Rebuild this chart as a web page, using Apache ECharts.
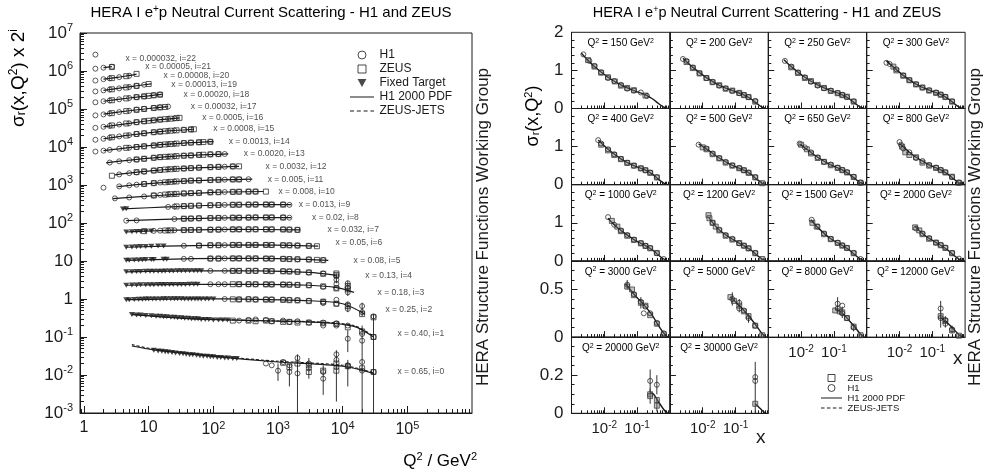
<!DOCTYPE html>
<html><head><meta charset="utf-8">
<script src="https://cdn.jsdelivr.net/npm/echarts@6/dist/echarts.min.js"></script>
<style>html,body{margin:0;padding:0;background:#fff}#c{width:989px;height:472px}</style>
</head><body><div id="c"></div>
<script>
// ---------------- LEFT PANEL DATA: [Q2, sigma_r * 2^i] ----------------
const h1_22 = [[1.5,2.7e6]];
const h1_21 = [[1.5,1.15e6],[2.0,1.22e6],[2.7,1.3e6]];
const zeus_21 = [[2.7,1.27e6]];
const pdf_21 = [[2.0,1.22e6],[2.7,1.3e6]];
const h1_20 = [[1.5,5.6e5],[2.0,6.1e5],[2.5,6.4e5],[3.5,6.9e5],[5.0,7.5e5]];
const zeus_20 = [[2.7,6.5e5],[4.5,7.3e5],[6.5,8.4e5]];
const pdf_20 = [[2.0,6.1e5],[3.0,6.7e5],[4.5,7.4e5],[6.5,8.3e5]];
const h1_19 = [[1.5,2.9e5],[2.0,3.1e5],[2.5,3.25e5],[3.5,3.5e5],[5.0,3.8e5],[6.5,4.05e5],[8.5,4.35e5]];
const zeus_19 = [[2.7,3.3e5],[4.5,3.7e5],[6.5,4.05e5],[10,4.55e5]];
const pdf_19 = [[2.0,3.1e5],[4.0,3.65e5],[7.0,4.15e5],[11,4.6e5]];
const h1_18 = [[1.5,1.5e5],[2.0,1.6e5],[2.5,1.67e5],[3.5,1.8e5],[5.0,1.95e5],[6.5,2.05e5],[8.5,2.15e5],[12,2.3e5],[15,2.4e5]];
const zeus_18 = [[2.7,1.7e5],[4.5,1.9e5],[6.5,2.05e5],[8.5,2.15e5],[10,2.22e5],[12,2.29e5],[15,2.38e5]];
const pdf_18 = [[2.0,1.6e5],[5.0,1.95e5],[10,2.22e5],[16,2.43e5]];
const h1_17 = [[1.5,6.8e4],[2.0,7.2e4],[2.5,7.6e4],[3.5,8.3e4],[5.0,9.0e4],[6.5,9.6e4],[8.5,1.01e5],[12,1.07e5],[15,1.11e5],[20,1.16e5]];
const zeus_17 = [[2.7,7.8e4],[4.5,8.8e4],[6.5,9.5e4],[8.5,1.0e5],[12,1.06e5],[15,1.1e5],[18,1.13e5]];
const pdf_17 = [[2.0,7.3e4],[5.0,9.0e4],[10,1.03e5],[20,1.16e5]];
const h1_16 = [[1.5,3.2e4],[2.0,3.4e4],[2.5,3.6e4],[3.5,3.9e4],[5.0,4.2e4],[6.5,4.5e4],[8.5,4.75e4],[12,5.05e4],[15,5.25e4],[20,5.5e4],[25,5.65e4]];
const zeus_16 = [[2.7,3.7e4],[4.5,4.15e4],[6.5,4.5e4],[8.5,4.75e4],[10,4.9e4],[12,5.05e4],[15,5.25e4],[18,5.4e4],[22,5.55e4],[27,5.75e4],[30,5.85e4]];
const pdf_16 = [[2.0,3.4e4],[5.0,4.2e4],[10,4.9e4],[30,5.85e4]];
const h1_15 = [[1.5,1.55e4],[2.0,1.65e4],[2.5,1.75e4],[3.5,1.9e4],[5.0,2.05e4],[6.5,2.2e4],[8.5,2.3e4],[12,2.45e4],[15,2.55e4],[20,2.65e4],[25,2.73e4],[35,2.83e4],[45,2.9e4]];
const zeus_15 = [[2.7,1.8e4],[4.5,2.0e4],[6.5,2.2e4],[8.5,2.3e4],[12,2.45e4],[15,2.53e4],[18,2.6e4],[22,2.68e4],[27,2.75e4],[35,2.83e4],[45,2.9e4],[50,2.93e4]];
const pdf_15 = [[2.0,1.65e4],[5.0,2.05e4],[15,2.55e4],[50,2.93e4]];
const h1_14 = [[1.5,7.6e3],[2.0,8.0e3],[2.5,8.4e3],[3.5,9.0e3],[5.0,9.6e3],[6.5,1.0e4],[8.5,1.05e4],[12,1.1e4],[15,1.14e4],[20,1.19e4],[25,1.22e4],[35,1.27e4],[45,1.3e4],[60,1.33e4],[90,1.37e4]];
const zeus_14 = [[4.5,9.5e3],[6.5,1.0e4],[8.5,1.04e4],[12,1.1e4],[15,1.14e4],[18,1.17e4],[22,1.2e4],[27,1.23e4],[35,1.27e4],[45,1.3e4],[60,1.33e4],[70,1.35e4],[90,1.37e4]];
const pdf_14 = [[2.0,8.0e3],[5.0,9.6e3],[20,1.19e4],[100,1.38e4]];
const h1_13 = [[2.5,3.9e3],[3.5,4.2e3],[5.0,4.5e3],[6.5,4.7e3],[8.5,4.9e3],[12,5.2e3],[15,5.4e3],[20,5.6e3],[25,5.7e3],[35,5.9e3],[45,6.0e3],[60,6.2e3],[90,6.4e3],[120,6.5e3],[150,6.55e3]];
const zeus_13 = [[6.5,4.7e3],[8.5,4.9e3],[12,5.2e3],[15,5.4e3],[18,5.5e3],[22,5.6e3],[27,5.75e3],[35,5.9e3],[45,6.0e3],[60,6.2e3],[70,6.25e3],[90,6.4e3],[120,6.5e3]];
const pdf_13 = [[2.2,3.8e3],[5.0,4.5e3],[20,5.6e3],[170,6.6e3]];
const h1_12 = [[3.5,1.9e3],[5.0,2.05e3],[6.5,2.15e3],[8.5,2.25e3],[12,2.4e3],[15,2.5e3],[20,2.6e3],[25,2.65e3],[35,2.72e3],[45,2.78e3],[60,2.85e3],[90,2.95e3],[120,3.0e3],[150,3.03e3],[200,3.08e3]];
const zeus_12 = [[2.7,1.75e3],[6.5,2.18e3],[8.5,2.28e3],[12,2.4e3],[15,2.48e3],[18,2.55e3],[22,2.6e3],[27,2.66e3],[35,2.72e3],[45,2.78e3],[60,2.85e3],[90,2.94e3],[120,3.0e3],[200,3.08e3],[250,3.1e3]];
const pdf_12 = [[3.0,1.85e3],[8.0,2.25e3],[30,2.7e3],[250,3.1e3]];
const h1_11 = [[2.0,8.5e2],[3.5,9.2e2],[5.0,9.8e2],[6.5,1.02e3],[8.5,1.07e3],[12,1.12e3],[15,1.16e3],[20,1.2e3],[25,1.23e3],[35,1.27e3],[45,1.3e3],[60,1.32e3],[90,1.35e3],[120,1.37e3],[150,1.38e3],[200,1.4e3],[250,1.41e3],[350,1.42e3]];
const zeus_11 = [[8.5,1.06e3],[12,1.12e3],[18,1.18e3],[22,1.21e3],[27,1.24e3],[35,1.27e3],[45,1.3e3],[60,1.32e3],[90,1.35e3],[120,1.37e3],[200,1.4e3],[250,1.4e3]];
const pdf_11 = [[3.3,9.1e2],[10,1.09e3],[50,1.3e3],[400,1.43e3]];
const h1_10 = [[3.0,4.45e2],[5.0,4.7e2],[8.5,5.0e2],[12,5.3e2],[15,5.5e2],[20,5.7e2],[25,5.8e2],[35,6.0e2],[45,6.1e2],[60,6.2e2],[90,6.4e2],[120,6.5e2],[150,6.55e2],[200,6.6e2],[250,6.65e2],[350,6.7e2],[450,6.7e2]];
const zeus_10 = [[12,5.3e2],[18,5.6e2],[22,5.75e2],[27,5.85e2],[35,6.0e2],[45,6.1e2],[60,6.2e2],[90,6.4e2],[120,6.45e2],[200,6.6e2],[250,6.65e2],[350,6.7e2],[450,6.7e2],[650,6.7e2]];
const pdf_10 = [[2.8,4.4e2],[10,5.1e2],[100,6.4e2],[600,6.75e2]];
const ft_9 = [[4.0,2.35e2],[4.5,2.38e2]];
const h1_9 = [[20,2.65e2],[25,2.7e2],[35,2.78e2],[45,2.83e2],[60,2.88e2],[90,2.93e2],[120,2.97e2],[150,3.0e2],[200,3.02e2],[250,3.03e2],[350,3.05e2],[450,3.06e2],[650,3.07e2],[800,3.05e2],[1200,3.08e2],[1500,3.0e2]];
const zeus_9 = [[27,2.73e2],[35,2.78e2],[45,2.83e2],[60,2.88e2],[90,2.93e2],[120,2.97e2],[200,3.02e2],[250,3.03e2],[350,3.05e2],[450,3.06e2],[650,3.06e2],[800,3.06e2],[1200,3.04e2]];
const pdf_9 = [[4.0,2.35e2],[20,2.65e2],[200,3.02e2],[1600,3.05e2]];
const h1_8 = [[4.5,1.15e2],[6.5,1.17e2],[25,1.27e2],[35,1.29e2],[45,1.31e2],[60,1.33e2],[90,1.35e2],[120,1.36e2],[150,1.37e2],[200,1.38e2],[250,1.38e2],[350,1.39e2],[450,1.4e2],[650,1.4e2],[800,1.4e2],[1200,1.4e2],[1500,1.38e2]];
const zeus_8 = [[35,1.3e2],[45,1.31e2],[60,1.33e2],[90,1.35e2],[120,1.36e2],[200,1.38e2],[250,1.38e2],[350,1.39e2],[450,1.4e2],[650,1.4e2],[800,1.4e2],[1200,1.39e2]];
const pdf_8 = [[4.5,1.15e2],[30,1.29e2],[300,1.39e2],[1600,1.39e2]];
const ft_7 = [[4.5,58],[5.5,59],[6.5,59.5],[7.5,60],[9,61],[11,62]];
const h1_7 = [[12,62],[15,63],[20,64],[25,64.5],[35,65],[45,65.5],[60,66],[90,67],[120,67],[150,67.5],[200,68],[250,68],[350,68],[450,68.5],[650,68],[800,68],[1200,68],[1500,67],[2000,66]];
const zeus_7 = [[8.5,61],[18,63.5],[22,64],[35,65],[45,65.5],[60,66],[90,66.5],[120,67],[200,68],[250,68],[350,68],[450,68],[650,68],[800,68],[1200,67.5],[1500,67],[2000,66]];
const pdf_7 = [[4.5,58],[20,64],[200,68],[2200,66]];
const ft_6 = [[4.5,23],[5.5,23.5],[6.5,23.8],[7.5,24],[9,24.2],[11,24.5],[14,24.8],[17,25]];
const h1_6 = [[35,25.2],[60,25.5],[90,26],[120,26],[150,26.2],[200,26.5],[250,26.5],[350,26.5],[450,26.5],[650,26.5],[800,26.5],[1200,26],[1500,26],[2000,25.5],[3000,25]];
const zeus_6 = [[60,25.5],[90,26],[120,26],[200,26.5],[250,26.5],[350,26.5],[450,26.5],[650,26.5],[800,26.3],[1200,26],[1500,25.8],[2000,25.5],[3000,25],[4000,24.5]];
const pdf_6 = [[4.5,23],[50,25.5],[500,26.5],[4200,24.5]];
const ft_5 = [[4.5,10.4],[5.0,10.5],[6.0,10.6],[7.0,10.7],[8.0,10.8],[9.0,10.9],[11,11],[12,11],[17,11.2],[19,11.2]];
const h1_5 = [[35,11.4],[45,11.4],[90,11.6],[120,11.6],[150,11.7],[200,11.7],[250,11.7],[350,11.7],[450,11.7],[650,11.6],[800,11.5],[1200,11.4],[1500,11.3],[2000,11.1],[3000,11],[5000,10.6]];
const zeus_5 = [[90,11.6],[120,11.6],[200,11.7],[250,11.7],[350,11.7],[450,11.7],[650,11.6],[800,11.6],[1200,11.4],[1500,11.2],[2000,11.1],[3000,10.9],[4000,10.7],[5000,10.5]];
const pdf_5 = [[4.5,10.4],[50,11.5],[500,11.7],[6000,10.4]];
const ft_4 = [[4.5,5.2],[5.5,5.25],[6.5,5.3],[7.5,5.3],[9,5.35],[10.5,5.35],[12,5.4],[14,5.4],[16,5.4],[18,5.45],[21,5.45],[24,5.45],[28,5.5],[32,5.5],[37,5.5],[43,5.5],[50,5.5],[57,5.5],[65,5.5]];
const h1_4 = [[90,5.5],[150,5.5],[200,5.5],[250,5.5],[350,5.5],[450,5.5],[650,5.45],[800,5.45],[1200,5.4],[1500,5.3],[2000,5.2],[3000,5.0],[5000,4.7],[8000,4.0],[8000,3.2]];
const zeus_4 = [[200,5.5],[250,5.5],[350,5.5],[450,5.5],[650,5.45],[800,5.4],[1200,5.35],[1500,5.3],[2000,5.2],[3000,5.0],[5000,4.6],[8000,4.3],[8000,4.7]];
const pdf_4 = [[4.5,5.2],[50,5.5],[500,5.5],[3000,5.0],[8000,4.2]];
const ft_3 = [[4.5,2.3],[5.5,2.33],[6.5,2.35],[7.5,2.36],[9,2.37],[10.5,2.38],[12,2.38],[14,2.39],[16,2.4],[18,2.4],[21,2.41],[24,2.41],[28,2.42],[32,2.42],[37,2.42],[43,2.43],[50,2.43],[57,2.43]];
const h1_3 = [[90,2.45],[120,2.45],[150,2.45],[250,2.45],[350,2.45],[450,2.44],[650,2.43],[800,2.42],[1200,2.4],[1500,2.38],[2000,2.35],[3000,2.3],[5000,2.1],[8000,1.95],[8000,2.5],[12000,1.5],[12000,2.0],[12000,2.6]];
const zeus_3 = [[200,2.45],[250,2.45],[350,2.45],[450,2.44],[650,2.43],[800,2.42],[1200,2.4],[1500,2.38],[2000,2.35],[3000,2.3],[5000,2.15],[8000,1.9],[12000,1.8],[12000,2.2]];
const pdf_3 = [[4.5,2.3],[50,2.43],[500,2.44],[3000,2.3],[8000,2.0],[15000,1.5]];
const ft_2 = [[4.5,0.95],[5,0.96],[6,0.97],[7,0.98],[8,0.99],[9,1.0],[10,1.0],[11.5,1.0],[13,1.0],[15,1.0],[17,1.01],[19,1.01],[22,1.01],[25,1.01],[28,1.01],[32,1.01],[36,1.0],[41,1.0],[46,1.0],[52,1.0],[58,1.0],[65,1.0],[75,1.0],[85,1.0],[100,1.0]];
const h1_2 = [[150,1.0],[250,0.98],[350,1.0],[450,0.97],[650,0.98],[800,0.97],[1200,0.96],[1500,0.95],[2000,0.93],[3000,0.9],[5000,0.85],[5000,0.78],[8000,0.75],[8000,0.95],[12000,0.55],[12000,0.72],[20000,0.45],[20000,0.65],[30000,0.35]];
const zeus_2 = [[200,0.98],[250,0.97],[350,0.98],[450,0.97],[650,0.96],[800,0.96],[1200,0.95],[1500,0.93],[2000,0.92],[3000,0.88],[5000,0.85],[8000,0.75],[12000,0.65],[20000,0.4],[30000,0.33]];
const pdf_2 = [[4.5,0.96],[50,1.01],[500,0.98],[3000,0.9],[10000,0.75],[22000,0.4]];
const ft_1 = [[5.5,0.39],[6.5,0.38],[7.5,0.38],[9,0.37],[11,0.36],[13,0.35],[15,0.35],[17,0.34],[19,0.34],[22,0.33],[25,0.33],[28,0.32],[32,0.32],[36,0.31],[41,0.31],[46,0.3],[52,0.3],[58,0.3],[65,0.29],[75,0.29],[85,0.29],[100,0.28],[120,0.28],[140,0.28],[165,0.28]];
const h1_1 = [[250,0.27],[350,0.28],[450,0.29],[650,0.28],[800,0.26],[1200,0.27],[1500,0.25],[2000,0.26],[3000,0.24],[5000,0.24],[5000,0.2],[8000,0.23],[8000,0.2],[12000,0.09],[12000,0.2],[20000,0.12],[20000,0.08],[30000,0.1]];
const zeus_1 = [[200,0.27],[350,0.27],[450,0.26],[650,0.27],[800,0.26],[1200,0.25],[1500,0.25],[2000,0.24],[3000,0.24],[5000,0.23],[8000,0.22],[12000,0.18],[20000,0.14],[30000,0.1]];
const pdf_1 = [[5.5,0.39],[50,0.3],[500,0.27],[5000,0.24],[15000,0.19],[30000,0.1]];
const jets_1 = [[5.5,0.4],[50,0.305],[500,0.272],[5000,0.245],[15000,0.2],[30000,0.106]];
const ft_0 = [[12,0.045],[14,0.043],[16,0.042],[18,0.041],[20,0.04],[23,0.039],[26,0.038],[30,0.037],[34,0.036],[38,0.035],[43,0.034],[48,0.034],[55,0.033],[62,0.032],[70,0.031],[80,0.031],[90,0.03],[100,0.03],[115,0.029],[130,0.029],[150,0.028],[170,0.028],[200,0.027],[230,0.027]];
const h1_0 = [[650,0.02],[800,0.018],[1000,0.013],[1200,0.022],[1500,0.018],[1500,0.012],[2000,0.028],[2000,0.011],[3000,0.02],[3000,0.015],[5000,0.012],[5000,0.008],[8000,0.035],[8000,0.025],[8000,0.016],[12000,0.018],[12000,0.017],[20000,0.022],[20000,0.013],[30000,0.012]];
const zeus_0 = [[1200,0.021],[1500,0.016],[2000,0.02],[3000,0.018],[3000,0.012],[5000,0.013],[8000,0.02],[8000,0.013],[12000,0.017],[20000,0.015],[30000,0.012]];
const pdf_0 = [[5.5,0.058],[12,0.046],[100,0.031],[1000,0.022],[10000,0.017],[30000,0.011]];
const jets_0 = [[5.5,0.063],[12,0.048],[100,0.032],[1000,0.023],[10000,0.018],[30000,0.0115]];
// error bars [Q2, low, high]
const errLeft = [[1000,0.007,0.02],[1500,0.005,0.02],[2000,0.0001,0.035],[3000,0.008,0.028],[5000,0.003,0.018],[8000,0.002,0.045],[12000,0.005,0.025],[20000,0.0001,0.03],[30000,0.0001,0.4],[12000,0.04,0.15],[20000,0.03,0.2],[8000,2.6,4.6],[12000,1.2,3.0],[12000,0.45,0.85],[20000,0.35,0.8]];

const binText = ['x = 0.000032, i=22','x = 0.00005, i=21','x = 0.00008, i=20','x = 0.00013, i=19','x = 0.00020, i=18','x = 0.00032, i=17','x = 0.0005, i=16','x = 0.0008, i=15','x = 0.0013, i=14','x = 0.0020, i=13','x = 0.0032, i=12','x = 0.005, i=11','x = 0.008, i=10','x = 0.013, i=9','x = 0.02, i=8','x = 0.032, i=7','x = 0.05, i=6','x = 0.08, i=5','x = 0.13, i=4','x = 0.18, i=3','x = 0.25, i=2','x = 0.40, i=1','x = 0.65, i=0'];
const binLabelQ2 = [4.3,8.7,16.7,22,34,44,66,98,170,290,630,680,1000,2050,3300,5700,7600,14500,22000,34000,45000,69000,69000];
const binLabelVal = [2.1e6,1.3e6,7.4e5,4.4e5,2.45e5,1.15e5,5.8e4,2.95e4,1.38e4,6.6e3,3.1e3,1.42e3,6.7e2,3.05e2,1.39e2,66,31,10,4.2,1.5,0.52,0.12,0.012];

const leftXTicks = [0,1,2,3,4,5];
const leftYTicks = [-3,-2,-1,0,1,2,3,4,5,6,7];

// ---------------- RIGHT PANELS DATA: [x, sigma_r] ----------------
const panelQ2 = [150,200,250,300,400,500,650,800,1000,1200,1500,2000,3000,5000,8000,12000,20000,30000];
const rH1_150 = [[0.0023,1.42],[0.0035,1.25],[0.005,1.12],[0.008,0.95],[0.013,0.8],[0.02,0.72],[0.032,0.62],[0.05,0.52],[0.08,0.47],[0.13,0.42],[0.2,0.33]];
const rZEUS_150 = [[0.0032,1.27],[0.005,1.1],[0.008,0.94],[0.013,0.82],[0.021,0.71],[0.032,0.6],[0.05,0.54],[0.08,0.48],[0.18,0.34]];
const rPDF_150 = [[0.002,1.45],[0.005,1.1],[0.013,0.82],[0.032,0.62],[0.08,0.47],[0.18,0.36],[0.3,0.25],[0.45,0.13],[0.65,0.035],[0.85,0]];
const rH1_200 = [[0.0025,1.3],[0.0032,1.25],[0.005,1.08],[0.008,0.93],[0.013,0.8],[0.02,0.7],[0.032,0.6],[0.05,0.53],[0.08,0.46],[0.13,0.4],[0.18,0.36],[0.25,0.3],[0.4,0.2]];
const rZEUS_200 = [[0.0032,1.22],[0.005,1.06],[0.008,0.92],[0.013,0.8],[0.02,0.69],[0.032,0.61],[0.05,0.52],[0.08,0.47],[0.13,0.41],[0.18,0.35],[0.25,0.3],[0.4,0.18]];
const rPDF_200 = [[0.0025,1.32],[0.005,1.08],[0.013,0.81],[0.032,0.61],[0.08,0.47],[0.18,0.36],[0.3,0.25],[0.45,0.13],[0.65,0.035],[0.85,0]];
const rH1_250 = [[0.0032,1.25],[0.005,1.1],[0.008,0.95],[0.013,0.82],[0.02,0.7],[0.032,0.6],[0.05,0.53],[0.08,0.47],[0.13,0.41],[0.18,0.36],[0.25,0.3],[0.4,0.19]];
const rZEUS_250 = [[0.005,1.08],[0.008,0.93],[0.013,0.8],[0.02,0.72],[0.032,0.62],[0.05,0.54],[0.08,0.46],[0.13,0.4],[0.18,0.35],[0.25,0.31],[0.4,0.18]];
const rPDF_250 = [[0.003,1.28],[0.005,1.1],[0.013,0.82],[0.032,0.62],[0.08,0.47],[0.18,0.36],[0.3,0.25],[0.45,0.13],[0.65,0.035],[0.85,0]];
const rH1_300 = [[0.004,1.2],[0.005,1.17],[0.008,1.03],[0.013,0.87],[0.02,0.75],[0.032,0.64],[0.05,0.55],[0.08,0.48],[0.13,0.42],[0.18,0.37],[0.25,0.31],[0.4,0.19]];
const rZEUS_300 = [[0.0065,1.1],[0.008,1.0],[0.013,0.86],[0.02,0.74],[0.032,0.63],[0.05,0.55],[0.08,0.47],[0.13,0.41],[0.18,0.36],[0.25,0.3],[0.4,0.18]];
const rPDF_300 = [[0.004,1.25],[0.008,1.02],[0.013,0.87],[0.032,0.64],[0.08,0.48],[0.18,0.37],[0.3,0.26],[0.45,0.14],[0.65,0.04],[0.85,0]];
const rH1_400 = [[0.0065,1.17],[0.008,1.08],[0.013,0.93],[0.02,0.8],[0.032,0.68],[0.05,0.58],[0.08,0.5],[0.13,0.43],[0.18,0.38],[0.25,0.32],[0.4,0.2]];
const rZEUS_400 = [[0.008,1.05],[0.013,0.9],[0.02,0.78],[0.032,0.67],[0.05,0.57],[0.08,0.5],[0.13,0.43],[0.18,0.38],[0.25,0.31],[0.4,0.19]];
const rPDF_400 = [[0.0065,1.17],[0.013,0.93],[0.032,0.68],[0.08,0.5],[0.18,0.38],[0.3,0.27],[0.45,0.14],[0.65,0.04],[0.85,0]];
const rH1_500 = [[0.0075,1.05],[0.013,0.95],[0.02,0.82],[0.032,0.7],[0.05,0.6],[0.08,0.51],[0.13,0.44],[0.18,0.38],[0.25,0.32],[0.4,0.2]];
const rZEUS_500 = [[0.01,0.98],[0.013,0.93],[0.02,0.8],[0.032,0.69],[0.05,0.58],[0.08,0.5],[0.13,0.43],[0.18,0.38],[0.25,0.31],[0.4,0.19],[0.65,0.04]];
const rPDF_500 = [[0.0075,1.07],[0.013,0.94],[0.032,0.7],[0.08,0.51],[0.18,0.38],[0.3,0.27],[0.45,0.14],[0.65,0.045],[0.85,0]];
const rH1_650 = [[0.009,1.08],[0.013,0.98],[0.02,0.85],[0.032,0.72],[0.05,0.6],[0.08,0.53],[0.13,0.45],[0.18,0.39],[0.25,0.33],[0.4,0.21],[0.65,0.06]];
const rZEUS_650 = [[0.01,1.05],[0.015,0.93],[0.02,0.82],[0.032,0.7],[0.05,0.6],[0.08,0.51],[0.13,0.44],[0.18,0.38],[0.25,0.32],[0.4,0.2],[0.65,0.05]];
const rPDF_650 = [[0.009,1.07],[0.013,0.97],[0.032,0.72],[0.08,0.52],[0.18,0.39],[0.3,0.27],[0.45,0.15],[0.65,0.05],[0.85,0]];
const rH1_800 = [[0.01,1.12],[0.011,1.05],[0.013,0.95],[0.02,0.85],[0.032,0.7],[0.05,0.62],[0.08,0.52],[0.13,0.45],[0.18,0.39],[0.25,0.33],[0.4,0.2],[0.65,0.06]];
const rZEUS_800 = [[0.012,1.0],[0.015,0.85],[0.02,0.78],[0.032,0.72],[0.05,0.58],[0.08,0.5],[0.13,0.44],[0.18,0.38],[0.25,0.32],[0.4,0.21],[0.65,0.05]];
const rPDF_800 = [[0.01,1.08],[0.02,0.85],[0.032,0.72],[0.08,0.52],[0.18,0.39],[0.3,0.27],[0.45,0.15],[0.65,0.05],[0.85,0]];
const rH1_1000 = [[0.013,1.15],[0.02,0.95],[0.032,0.8],[0.05,0.68],[0.08,0.56],[0.13,0.47],[0.18,0.4],[0.25,0.34],[0.4,0.2],[0.65,0.05]];
const rZEUS_1000 = [[0.017,1.05],[0.025,0.9],[0.032,0.78],[0.05,0.66],[0.08,0.55],[0.13,0.46],[0.18,0.39],[0.25,0.33],[0.4,0.21]];
const rPDF_1000 = [[0.013,1.12],[0.02,0.95],[0.032,0.8],[0.08,0.56],[0.18,0.4],[0.3,0.28],[0.45,0.15],[0.65,0.05],[0.85,0]];
const rH1_1200 = [[0.02,1.0],[0.032,0.82],[0.05,0.68],[0.08,0.58],[0.13,0.46],[0.18,0.4],[0.25,0.33],[0.4,0.21]];
const rZEUS_1200 = [[0.015,1.2],[0.016,1.12],[0.02,1.0],[0.025,0.9],[0.032,0.8],[0.05,0.66],[0.08,0.56],[0.13,0.47],[0.18,0.4],[0.25,0.33],[0.4,0.2],[0.65,0.05]];
const rPDF_1200 = [[0.015,1.15],[0.032,0.81],[0.08,0.57],[0.18,0.4],[0.3,0.28],[0.45,0.15],[0.65,0.05],[0.85,0]];
const rH1_1500 = [[0.021,1.08],[0.032,0.9],[0.05,0.72],[0.08,0.58],[0.13,0.48],[0.18,0.41],[0.25,0.34],[0.4,0.21],[0.65,0.05]];
const rZEUS_1500 = [[0.022,1.0],[0.03,0.9],[0.05,0.7],[0.08,0.57],[0.13,0.47],[0.18,0.4],[0.25,0.34],[0.4,0.2]];
const rPDF_1500 = [[0.02,1.08],[0.032,0.88],[0.08,0.58],[0.18,0.41],[0.3,0.28],[0.45,0.15],[0.65,0.05],[0.85,0]];
const rH1_2000 = [[0.032,0.85],[0.05,0.72],[0.08,0.6],[0.13,0.48],[0.18,0.42],[0.25,0.35],[0.4,0.21],[0.65,0.06]];
const rZEUS_2000 = [[0.03,0.88],[0.04,0.8],[0.05,0.7],[0.08,0.58],[0.13,0.48],[0.18,0.41],[0.25,0.34],[0.4,0.2]];
const rPDF_2000 = [[0.03,0.9],[0.05,0.72],[0.08,0.59],[0.18,0.41],[0.3,0.28],[0.45,0.15],[0.65,0.05],[0.85,0]];
const rH1_3000 = [[0.05,0.55],[0.08,0.45],[0.13,0.37],[0.16,0.25],[0.18,0.32],[0.25,0.25],[0.4,0.15],[0.65,0.04]];
const rZEUS_3000 = [[0.05,0.53],[0.07,0.5],[0.08,0.44],[0.13,0.36],[0.18,0.33],[0.25,0.23],[0.4,0.14],[0.65,0.03]];
const rPDF_3000 = [[0.045,0.56],[0.08,0.45],[0.18,0.32],[0.3,0.22],[0.45,0.12],[0.65,0.04],[0.85,0]];
const rH1_5000 = [[0.08,0.4],[0.13,0.36],[0.13,0.3],[0.18,0.28],[0.25,0.2],[0.4,0.12]];
const rZEUS_5000 = [[0.07,0.42],[0.09,0.38],[0.13,0.33],[0.18,0.27],[0.25,0.22],[0.4,0.12],[0.65,0.02]];
const rPDF_5000 = [[0.07,0.42],[0.13,0.33],[0.18,0.28],[0.3,0.19],[0.45,0.11],[0.65,0.035],[0.85,0]];
const rH1_8000 = [[0.13,0.3],[0.13,0.35],[0.18,0.33],[0.18,0.25],[0.25,0.2],[0.4,0.1]];
const rZEUS_8000 = [[0.11,0.28],[0.15,0.27],[0.18,0.26],[0.25,0.2],[0.4,0.11],[0.65,0.02]];
const rPDF_8000 = [[0.11,0.3],[0.18,0.25],[0.3,0.17],[0.45,0.1],[0.65,0.03],[0.85,0]];
const rH1_12000 = [[0.18,0.3],[0.18,0.2],[0.25,0.18],[0.25,0.14],[0.4,0.08]];
const rZEUS_12000 = [[0.18,0.22],[0.25,0.17],[0.4,0.07],[0.65,0.015]];
const rPDF_12000 = [[0.17,0.21],[0.25,0.17],[0.4,0.1],[0.65,0.025],[0.85,0]];
const rH1_20000 = [[0.25,0.17],[0.4,0.15]];
const rZEUS_20000 = [[0.25,0.1],[0.25,0.09],[0.4,0.07],[0.4,0.04]];
const rPDF_20000 = [[0.25,0.11],[0.32,0.1],[0.45,0.06],[0.65,0.02],[0.85,0]];
const rH1_30000 = [[0.4,0.19],[0.4,0.17]];
const rZEUS_30000 = [[0.4,0.05]];
const rPDF_30000 = [[0.4,0.05],[0.5,0.035],[0.65,0.015],[0.85,0]];
// error bars [x, low, high]
const rErr_3000 = [[0.05,0.5,0.6],[0.13,0.3,0.42]];
const rErr_5000 = [[0.08,0.33,0.47],[0.13,0.26,0.4],[0.25,0.15,0.25]];
const rErr_8000 = [[0.13,0.26,0.42],[0.18,0.2,0.32],[0.4,0.06,0.14]];
const rErr_12000 = [[0.18,0.2,0.38],[0.18,0.1,0.26],[0.25,0.1,0.22],[0.4,0.04,0.12]];
const rErr_20000 = [[0.25,0.11,0.23],[0.25,0.05,0.13],[0.4,0.1,0.2],[0.4,0.01,0.08]];
const rErr_30000 = [[0.4,0.0,0.27]];

const rowMax = [2,2,2,0.8,0.4];
const rowMajor = [[1],[1],[1],[0.5],[0.2]];
const rowLabels = [[0,1,2],[0,1],[0,1],[0,0.5],[0,0.2]];
const rowMinor = [[0.2,0.4,0.6,0.8,1.2,1.4,1.6,1.8],[0.2,0.4,0.6,0.8,1.2,1.4,1.6,1.8],[0.2,0.4,0.6,0.8,1.2,1.4,1.6,1.8],[0.1,0.2,0.3,0.4,0.6,0.7],[0.05,0.1,0.15,0.25,0.3,0.35]];

// ---------------- BUILD ----------------
const F = '"Liberation Sans", Arial, Helvetica, sans-serif';
const INK = '#1b1b1b';
const L10 = Math.log10;
const LXMIN = -0.062;

const leftH1 = [h1_22,h1_21,h1_20,h1_19,h1_18,h1_17,h1_16,h1_15,h1_14,h1_13,h1_12,h1_11,h1_10,h1_9,h1_8,h1_7,h1_6,h1_5,h1_4,h1_3,h1_2,h1_1,h1_0];
const leftZEUS = [zeus_21,zeus_20,zeus_19,zeus_18,zeus_17,zeus_16,zeus_15,zeus_14,zeus_13,zeus_12,zeus_11,zeus_10,zeus_9,zeus_8,zeus_7,zeus_6,zeus_5,zeus_4,zeus_3,zeus_2,zeus_1,zeus_0];
const leftFT = [ft_9,ft_7,ft_6,ft_5,ft_4,ft_3,ft_2,ft_1,ft_0];
const leftPDF = [pdf_21,pdf_20,pdf_19,pdf_18,pdf_17,pdf_16,pdf_15,pdf_14,pdf_13,pdf_12,pdf_11,pdf_10,pdf_9,pdf_8,pdf_7,pdf_6,pdf_5,pdf_4,pdf_3,pdf_2,pdf_1,pdf_0];
const leftJETS = [jets_1, jets_0];
const rH1 = [rH1_150,rH1_200,rH1_250,rH1_300,rH1_400,rH1_500,rH1_650,rH1_800,rH1_1000,rH1_1200,rH1_1500,rH1_2000,rH1_3000,rH1_5000,rH1_8000,rH1_12000,rH1_20000,rH1_30000];
const rZEUS = [rZEUS_150,rZEUS_200,rZEUS_250,rZEUS_300,rZEUS_400,rZEUS_500,rZEUS_650,rZEUS_800,rZEUS_1000,rZEUS_1200,rZEUS_1500,rZEUS_2000,rZEUS_3000,rZEUS_5000,rZEUS_8000,rZEUS_12000,rZEUS_20000,rZEUS_30000];
const rPDF = [rPDF_150,rPDF_200,rPDF_250,rPDF_300,rPDF_400,rPDF_500,rPDF_650,rPDF_800,rPDF_1000,rPDF_1200,rPDF_1500,rPDF_2000,rPDF_3000,rPDF_5000,rPDF_8000,rPDF_12000,rPDF_20000,rPDF_30000];
const rErr = [[],[],[],[],[],[],[],[],[],[],[],[],rErr_3000,rErr_5000,rErr_8000,rErr_12000,rErr_20000,rErr_30000];

const tfL = d => [L10(d[0]), L10(d[1])];
const tfR = d => [L10(d[0]), d[1]];

function minorLogs(e0, e1) { const out = []; for (let e = e0; e <= e1; e++) for (let k = 2; k <= 9; k++) out.push(L10(k) + e); return out; }
function powLabel(v) { const e = Math.round(v); if (e === 0) return '{b|1}'; if (e === 1) return '{b|10}'; return '{b|10}{s|' + e + '}'; }
function rich(fs, sfs, pad) { return { b: { fontSize: fs, fontFamily: F, color: INK }, s: { fontSize: sfs, fontFamily: F, color: INK, padding: [0, 0, pad, 0] } }; }

const H1STYLE = { color: 'rgba(255,255,255,0)', borderColor: INK, borderWidth: 0.9 };
const ZSTYLE = { color: 'rgba(255,255,255,0)', borderColor: INK, borderWidth: 0.9 };
const TRI = 'path://M0,0L10,0L5,9Z';
const SQ = 'path://M0,0L10,0L10,10L0,10Z';
// corner specks keep the icon bounding box at 30x10 so the stroke stays thin
const SPECKS = 'M0,0L0.05,0L0,0.05Z M30,10L29.95,10L30,9.95Z ';
const LINE_ICON = 'path://' + SPECKS + 'M0,4.3L30,4.3L30,5.7L0,5.7Z';
const DASH_ICON = 'path://' + SPECKS + 'M0,4.3L5,4.3L5,5.7L0,5.7Z M8.5,4.3L13.5,4.3L13.5,5.7L8.5,5.7Z M17,4.3L22,4.3L22,5.7L17,5.7Z M25.5,4.3L30,4.3L30,5.7L25.5,5.7Z';

const grids = [], xAxes = [], yAxes = [], series = [], graphics = [];
const NOZERO = { show: false, onZero: false };

// Left plot
grids.push({ left: 80, top: 33, width: 392, height: 380, show: true, borderColor: INK, borderWidth: 1 });
const lxMinor = minorLogs(-1, 5).filter(v => v > LXMIN && v < 6);
xAxes.push({ type: 'value', gridIndex: 0, min: LXMIN, max: 6, position: 'bottom',
  axisLine: { show: true, onZero: false, lineStyle: { color: INK } },
  axisTick: { inside: true, length: 7, customValues: leftXTicks, lineStyle: { color: INK } },
  axisLabel: { customValues: leftXTicks, formatter: powLabel, rich: rich(16, 11, 9), margin: 7 },
  splitLine: { show: false } });
xAxes.push({ type: 'value', gridIndex: 0, min: LXMIN, max: 6, position: 'bottom',
  axisLine: NOZERO, axisLabel: { show: false }, splitLine: { show: false },
  axisTick: { inside: true, length: 4, customValues: lxMinor, lineStyle: { color: INK } } });
yAxes.push({ type: 'value', gridIndex: 0, min: -3, max: 7, position: 'left',
  axisLine: { show: true, onZero: false, lineStyle: { color: INK } },
  axisTick: { inside: true, length: 7, customValues: leftYTicks, lineStyle: { color: INK } },
  axisLabel: { customValues: leftYTicks, formatter: powLabel, rich: rich(17, 11, 10), margin: 7 },
  splitLine: { show: false } });
yAxes.push({ type: 'value', gridIndex: 0, min: -3, max: 7, position: 'left',
  axisLine: NOZERO, axisLabel: { show: false }, splitLine: { show: false },
  axisTick: { inside: true, length: 4, customValues: minorLogs(-3, 6), lineStyle: { color: INK } } });

leftPDF.forEach(arr => series.push({ type: 'line', name: 'H1 2000 PDF', xAxisIndex: 0, yAxisIndex: 0, data: arr.map(tfL), smooth: 0.3, symbol: 'none', lineStyle: { color: INK, width: 1.2 }, z: 3, silent: true }));
leftJETS.forEach(arr => series.push({ type: 'line', name: 'ZEUS-JETS', xAxisIndex: 0, yAxisIndex: 0, data: arr.map(tfL), smooth: 0.3, symbol: 'none', lineStyle: { color: INK, width: 1.1, type: [3, 2] }, z: 3, silent: true }));
series.push({ type: 'scatter', name: 'H1', xAxisIndex: 0, yAxisIndex: 0, data: leftH1.flat().map(tfL), symbol: 'circle', symbolSize: 5, itemStyle: H1STYLE, z: 4, silent: true });
series.push({ type: 'scatter', name: 'ZEUS', xAxisIndex: 0, yAxisIndex: 0, data: leftZEUS.flat().map(tfL), symbol: 'rect', symbolSize: 5, itemStyle: ZSTYLE, z: 4, silent: true });
series.push({ type: 'scatter', name: 'Fixed Target', xAxisIndex: 0, yAxisIndex: 0, data: leftFT.flat().map(tfL), symbol: TRI, symbolSize: [6, 5], itemStyle: { color: INK }, z: 4, silent: true });

function errRender(params, api) {
  const a = api.coord([api.value(0), api.value(1)]);
  const b = api.coord([api.value(0), api.value(2)]);
  return { type: 'line', shape: { x1: a[0], y1: a[1], x2: b[0], y2: b[1] }, style: { stroke: '#333', lineWidth: 1 } };
}
series.push({ type: 'custom', xAxisIndex: 0, yAxisIndex: 0, clip: true, silent: true, z: 2,
  data: errLeft.map(d => [L10(d[0]), L10(Math.max(d[1], 1e-4)), L10(d[2])]), renderItem: errRender });

series.push({ type: 'scatter', xAxisIndex: 0, yAxisIndex: 0, silent: true, symbolSize: 1, itemStyle: { color: 'rgba(0,0,0,0)' }, z: 5,
  data: binText.map((t, k) => ({ value: [L10(binLabelQ2[k]), L10(binLabelVal[k])], name: t })),
  label: { show: true, position: 'right', distance: 0, formatter: p => p.name, fontSize: 8.5, fontFamily: F, color: INK } });

// Right panels
const RX0 = 571.5, RY0 = 32.3, PW = 98.4, PH = 76.2;
const rxMinor = minorLogs(-3, -1);
panelQ2.forEach((q, p) => {
  const r = Math.floor(p / 4), c = p % 4;
  const gi = 1 + p;
  const left = RX0 + c * PW, top = RY0 + r * PH;
  grids.push({ left: left, top: top, width: PW, height: PH, show: true, borderColor: INK, borderWidth: 1 });
  const showX = (p === 14 || p === 15 || p === 16 || p === 17);
  xAxes.push({ type: 'value', gridIndex: gi, min: -3, max: 0, position: 'bottom',
    axisLine: { show: true, onZero: false, lineStyle: { color: INK } },
    axisTick: { inside: true, length: 6, customValues: [-2, -1], lineStyle: { color: INK } },
    axisLabel: { show: showX, customValues: [-2, -1], formatter: powLabel, rich: rich(15, 10, 8), margin: 7 },
    splitLine: { show: false } });
  xAxes.push({ type: 'value', gridIndex: gi, min: -3, max: 0, position: 'bottom',
    axisLine: NOZERO, axisLabel: { show: false }, splitLine: { show: false },
    axisTick: { inside: true, length: 3, customValues: rxMinor, lineStyle: { color: INK } } });
  yAxes.push({ type: 'value', gridIndex: gi, min: 0, max: rowMax[r], position: 'left',
    axisLine: { show: true, onZero: false, lineStyle: { color: INK } },
    axisTick: { inside: true, length: 6, customValues: rowMajor[r], lineStyle: { color: INK } },
    axisLabel: { show: c === 0, customValues: rowLabels[r], fontSize: 17, fontFamily: F, color: INK, margin: 8 },
    splitLine: { show: false } });
  yAxes.push({ type: 'value', gridIndex: gi, min: 0, max: rowMax[r], position: 'left',
    axisLine: NOZERO, axisLabel: { show: false }, splitLine: { show: false },
    axisTick: { inside: true, length: 3, customValues: rowMinor[r], lineStyle: { color: INK } } });
  const xi = 2 + 2 * p, yi = 2 + 2 * p;
  series.push({ type: 'line', name: 'H1 2000 PDF', xAxisIndex: xi, yAxisIndex: yi, data: rPDF[p].map(tfR), smooth: 0.3, symbol: 'none', lineStyle: { color: INK, width: 1.4 }, z: 3, silent: true });
  if (rErr[p].length) series.push({ type: 'custom', xAxisIndex: xi, yAxisIndex: yi, clip: true, silent: true, z: 2, data: rErr[p].map(d => [L10(d[0]), d[1], d[2]]), renderItem: errRender });
  series.push({ type: 'scatter', name: 'ZEUS', xAxisIndex: xi, yAxisIndex: yi, data: rZEUS[p].map(tfR), symbol: 'rect', symbolSize: 5, itemStyle: { color: 'rgba(120,120,120,0.55)', borderColor: '#333', borderWidth: 0.9 }, z: 4, silent: true });
  series.push({ type: 'scatter', name: 'H1', xAxisIndex: xi, yAxisIndex: yi, data: rH1[p].map(tfR), symbol: 'circle', symbolSize: 5, itemStyle: H1STYLE, z: 4, silent: true });
  graphics.push({ type: 'text', x: left + PW / 2, y: top + 11, silent: true,
    style: { text: '{b|Q}{s|2}{b| = ' + q + ' GeV}{s|2}', align: 'center', verticalAlign: 'middle', rich: rich(10, 7, 5) } });
});

// Texts
graphics.push({ type: 'text', x: 271, y: 13, silent: true, style: { text: '{b|HERA I e}{s|+}{b|p Neutral Current Scattering - H1 and ZEUS}', align: 'center', verticalAlign: 'middle', rich: rich(15, 10, 7) } });
graphics.push({ type: 'text', x: 767, y: 13, silent: true, style: { text: '{b|HERA I e}{s|+}{b|p Neutral Current Scattering - H1 and ZEUS}', align: 'center', verticalAlign: 'middle', rich: rich(14.5, 9, 7) } });
graphics.push({ type: 'text', x: 477, y: 461, silent: true, style: { text: '{b|Q}{s|2}{b| / GeV}{s|2}', align: 'right', verticalAlign: 'middle', rich: rich(17, 11, 9) } });
graphics.push({ type: 'text', x: 483, y: 227, rotation: Math.PI / 2, silent: true, style: { text: 'HERA Structure Functions Working Group', align: 'center', verticalAlign: 'middle', fontSize: 17, fontFamily: F, fill: INK } });
graphics.push({ type: 'text', x: 975, y: 227, rotation: Math.PI / 2, silent: true, style: { text: 'HERA Structure Functions Working Group', align: 'center', verticalAlign: 'middle', fontSize: 17, fontFamily: F, fill: INK } });
graphics.push({ type: 'text', x: 19, y: 78, rotation: Math.PI / 2, silent: true, style: { text: '{b|σ}{u|r}{b|(x,Q}{s|2}{b|) x 2}{s|i}', align: 'center', verticalAlign: 'middle',
  rich: Object.assign(rich(19, 12, 10), { u: { fontSize: 12, fontFamily: F, color: INK, padding: [6, 0, 0, 0] } }) } });
graphics.push({ type: 'text', x: 533, y: 116, rotation: Math.PI / 2, silent: true, style: { text: '{b|σ}{u|r}{b|(x,Q}{s|2}{b|)}', align: 'center', verticalAlign: 'middle',
  rich: Object.assign(rich(18, 11, 9), { u: { fontSize: 11, fontFamily: F, color: INK, padding: [6, 0, 0, 0] } }) } });
graphics.push({ type: 'text', x: 953, y: 359, silent: true, style: { text: 'x', fontSize: 19, fontFamily: F, fill: INK, align: 'left', verticalAlign: 'middle' } });
graphics.push({ type: 'text', x: 756, y: 438, silent: true, style: { text: 'x', fontSize: 19, fontFamily: F, fill: INK, align: 'left', verticalAlign: 'middle' } });

const legendItems = {
  'H1': { name: 'H1', icon: 'circle', itemStyle: { color: 'rgba(255,255,255,0)', borderColor: INK, borderWidth: 1 } },
  'ZEUS': { name: 'ZEUS', icon: SQ, itemStyle: { color: 'rgba(255,255,255,0)', borderColor: INK, borderWidth: 1 } },
  'Fixed Target': { name: 'Fixed Target', icon: TRI, itemStyle: { color: INK, borderWidth: 0 } },
  'H1 2000 PDF': { name: 'H1 2000 PDF', icon: LINE_ICON, itemStyle: { color: INK, borderWidth: 0 } },
  'ZEUS-JETS': { name: 'ZEUS-JETS', icon: DASH_ICON, itemStyle: { color: INK, borderWidth: 0 } }
};

const chart = echarts.init(document.getElementById('c'), null, { renderer: 'canvas' });
chart.setOption({
  animation: false,
  backgroundColor: '#fff',
  textStyle: { fontFamily: F, color: INK },
  grid: grids, xAxis: xAxes, yAxis: yAxes, series: series, graphic: graphics,
  legend: [
    { left: 345, top: 44, orient: 'vertical', itemGap: 2, itemWidth: 25, itemHeight: 8, selectedMode: false,
      textStyle: { fontSize: 12, fontFamily: F, color: INK },
      data: ['H1', 'ZEUS', 'Fixed Target', 'H1 2000 PDF', 'ZEUS-JETS'].map(n => legendItems[n]) },
    { left: 816, top: 368, orient: 'vertical', itemGap: 0, itemWidth: 22, itemHeight: 7, selectedMode: false,
      textStyle: { fontSize: 9.5, fontFamily: F, color: INK },
      data: ['ZEUS', 'H1', 'H1 2000 PDF', 'ZEUS-JETS'].map(n => legendItems[n]) }
  ]
});
</script></body></html>
